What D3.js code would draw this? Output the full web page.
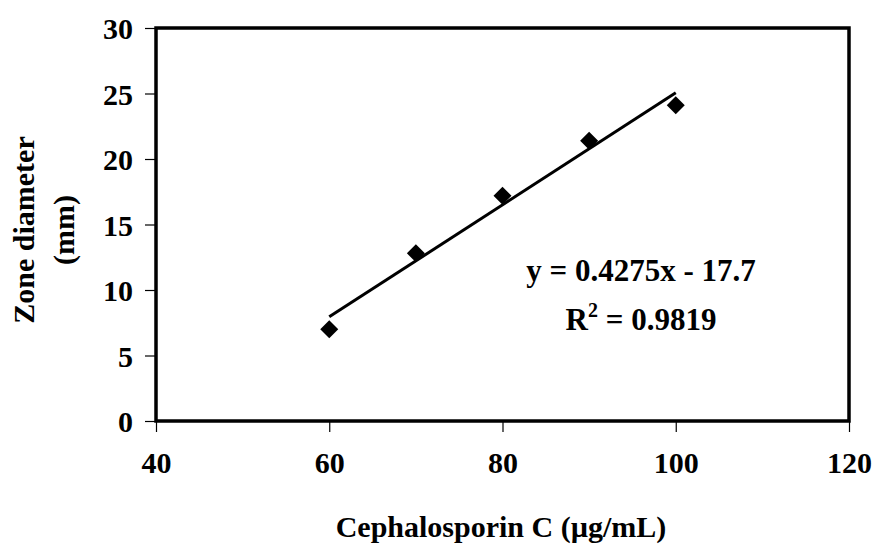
<!DOCTYPE html>
<html>
<head>
<meta charset="utf-8">
<script src="https://cdn.jsdelivr.net/npm/d3@7"></script>
<style>
  body { margin: 0; background: #fff; }
  text { font-family: "Liberation Serif", "Times New Roman", serif; font-weight: bold; fill: #000; }
</style>
</head>
<body>
<script>
// données
var concentrations = [60, 70, 80, 90, 100];
var diametres = [7.0, 12.8, 17.2, 21.4, 24.1];
var xTicks = [40, 60, 80, 100, 120];
var yTicks = [0, 5, 10, 15, 20, 25, 30];
var pente = 0.4275;
var ordonnee = -17.7;
var equation = "y = 0.4275x - 17.7";
var r2 = "0.9819";

var width = 876, height = 545;
var margeG = 156, margeD = 849, margeH = 28, margeB = 421;

var svg = d3.select("body").append("svg")
    .attr("width", width)
    .attr("height", height);

var xscale = d3.scaleLinear().domain([40, 120]).range([margeG, margeD]);
var yscale = d3.scaleLinear().domain([0, 30]).range([margeB, margeH]);

// axes
var xAxis = d3.axisBottom(xscale).tickValues(xTicks).tickSize(11).tickPadding(20).tickSizeOuter(0);
var yAxis = d3.axisLeft(yscale).tickValues(yTicks).tickSize(11).tickPadding(12).tickSizeOuter(0);

var gx = svg.append("g").attr("transform", "translate(0," + margeB + ")").call(xAxis);
var gy = svg.append("g").attr("transform", "translate(" + margeG + ",0)").call(yAxis);

[gx, gy].forEach(function (g) {
    g.select(".domain").remove();
    g.selectAll("line").attr("stroke", "#000").attr("stroke-width", 1.2);
    g.selectAll("text")
        .style("font-family", "'Liberation Serif', serif")
        .style("font-weight", "bold")
        .style("font-size", "30px")
        .attr("fill", "#000");
});
gx.selectAll("text").attr("dy", "0.71em");
gy.selectAll("text").attr("dy", "0.35em");

// cadre
svg.append("rect")
    .attr("x", margeG).attr("y", margeH)
    .attr("width", margeD - margeG).attr("height", margeB - margeH)
    .attr("fill", "none").attr("stroke", "#000").attr("stroke-width", 3.5);

// droite de régression
var x0 = d3.min(concentrations), x1 = d3.max(concentrations);
svg.append("line")
    .attr("x1", xscale(x0)).attr("y1", yscale(pente * x0 + ordonnee))
    .attr("x2", xscale(x1)).attr("y2", yscale(pente * x1 + ordonnee))
    .attr("stroke", "#000").attr("stroke-width", 3);

// points
var losange = d3.symbol().type(d3.symbolSquare).size(162);
svg.append("g").selectAll("path")
    .data(concentrations)
    .enter().append("path")
    .attr("d", losange)
    .attr("transform", function (d, i) {
        return "translate(" + xscale(d) + "," + yscale(diametres[i]) + ") rotate(45)";
    })
    .attr("fill", "#000");

// équation
svg.append("text")
    .attr("x", 641).attr("y", 281)
    .attr("text-anchor", "middle")
    .style("font-size", "31px")
    .text(equation);

var t2 = svg.append("text")
    .attr("x", 641).attr("y", 330)
    .attr("text-anchor", "middle")
    .style("font-size", "31px");
t2.append("tspan").text("R");
t2.append("tspan").attr("dy", -13).style("font-size", "20px").text("2");
t2.append("tspan").attr("dy", 13).text(" = " + r2);

// titres des axes
svg.append("text")
    .attr("x", 501).attr("y", 537)
    .attr("text-anchor", "middle")
    .style("font-size", "30px")
    .text("Cephalosporin C (µg/mL)");

var ytitre = svg.append("text")
    .attr("transform", "translate(0,230) rotate(-90)")
    .attr("text-anchor", "middle")
    .style("font-size", "30px");
ytitre.append("tspan").attr("x", 0).attr("y", 34).text("Zone diameter");
ytitre.append("tspan").attr("x", 0).attr("y", 74).text("(mm)");
</script>
</body>
</html>
